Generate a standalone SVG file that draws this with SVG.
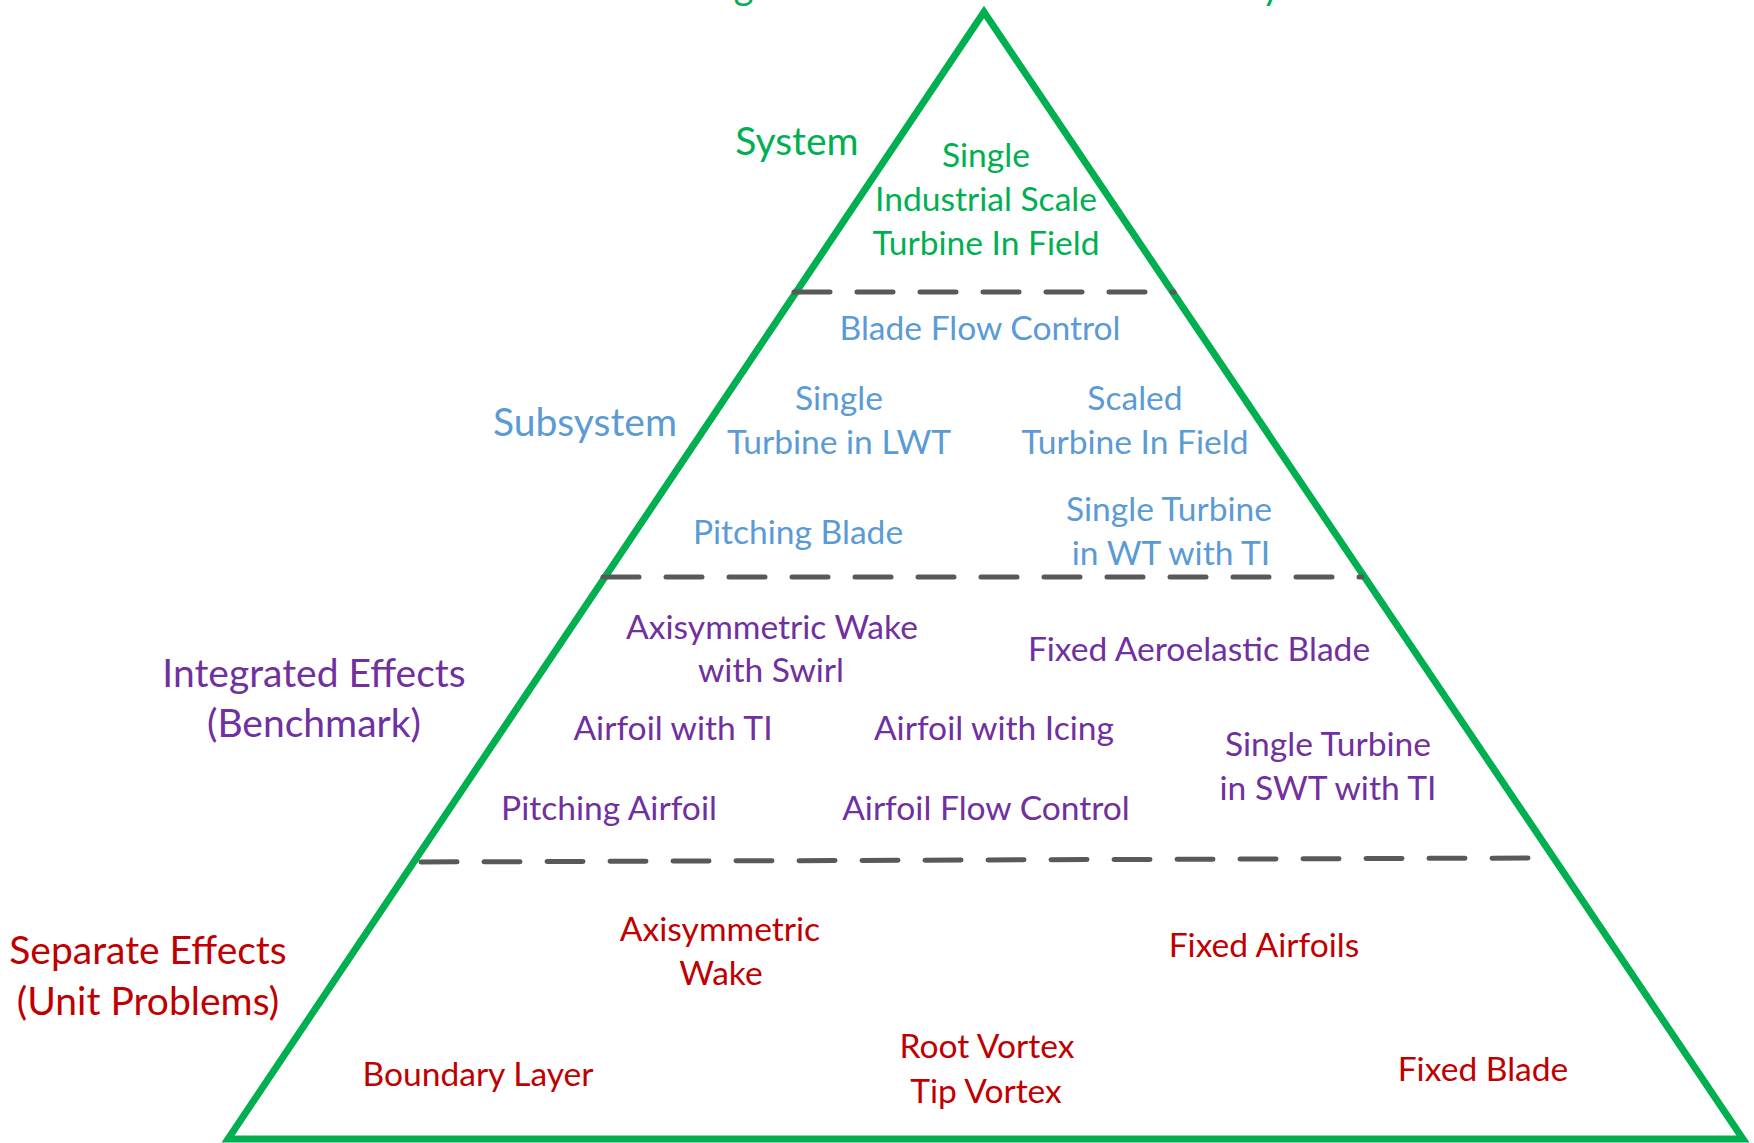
<svg xmlns="http://www.w3.org/2000/svg" width="1754" height="1143" viewBox="0 0 1754 1143">
<style>
text{font-family:Lato,"Open Sans","Liberation Sans",sans-serif;text-anchor:middle}
.item{font-size:33.6px}
.lbl{font-size:39px}
.g{fill:#00B050}.b{fill:#5B9BD5}.p{fill:#7030A0}.r{fill:#C00000}
.dash{stroke:#595959;stroke-width:5;stroke-dasharray:36 27;stroke-linecap:round;fill:none}
</style>
<rect width="1754" height="1143" fill="#fff"/>
<g id="title"><text class="g" x="981" y="-1" font-size="38" textLength="600" lengthAdjust="spacing">Single Turbine Validation Hierarchy</text></g>
<g id="pyramid"><polygon points="984,12 228,1139 1743,1139" fill="none" stroke="#00B050" stroke-width="7" stroke-linejoin="miter"/></g>
<g id="connectors">
<line class="dash" x1="794" y1="292" x2="1174" y2="292"/>
<line class="dash" x1="603" y1="577" x2="1362" y2="577"/>
<line class="dash" x1="421" y1="862" x2="1532" y2="858"/>
</g>
<g id="system-label"><text class="lbl g" x="797" y="155">System</text></g>
<g id="n-industrial"><text class="item g" x="986" y="167">Single</text><text class="item g" x="986" y="211">Industrial Scale</text><text class="item g" x="986" y="255">Turbine In Field</text></g>
<g id="subsystem-label"><text class="lbl b" x="585" y="436">Subsystem</text></g>
<g id="n-bladeflow"><text class="item b" x="980" y="340">Blade Flow Control</text></g>
<g id="n-lwt"><text class="item b" x="839" y="410">Single</text><text class="item b" x="839" y="454">Turbine in LWT</text></g>
<g id="n-scaled"><text class="item b" x="1135" y="410">Scaled</text><text class="item b" x="1135" y="454">Turbine In Field</text></g>
<g id="n-pitchblade"><text class="item b" x="798" y="544">Pitching Blade</text></g>
<g id="n-wt"><text class="item b" x="1169" y="521">Single Turbine</text><text class="item b" x="1171" y="565">in WT with TI</text></g>
<g id="integrated-label"><text class="lbl p" x="314" y="687">Integrated Effects</text><text class="lbl p" x="314" y="737">(Benchmark)</text></g>
<g id="n-axiswirl"><text class="item p" x="772" y="639">Axisymmetric Wake</text><text class="item p" x="771" y="682">with Swirl</text></g>
<g id="n-fixedaero"><text class="item p" x="1199" y="661">Fixed Aeroelastic Blade</text></g>
<g id="n-airfoilti"><text class="item p" x="673" y="740">Airfoil with TI</text></g>
<g id="n-icing"><text class="item p" x="994" y="740">Airfoil with Icing</text></g>
<g id="n-swt"><text class="item p" x="1328" y="756">Single Turbine</text><text class="item p" x="1328" y="800">in SWT with TI</text></g>
<g id="n-pitchairfoil"><text class="item p" x="609" y="820">Pitching Airfoil</text></g>
<g id="n-airfoilflow"><text class="item p" x="986" y="820">Airfoil Flow Control</text></g>
<g id="separate-label"><text class="lbl r" x="148" y="964">Separate Effects</text><text class="lbl r" x="148" y="1015">(Unit Problems)</text></g>
<g id="n-axiwake"><text class="item r" x="720" y="941">Axisymmetric</text><text class="item r" x="721" y="985">Wake</text></g>
<g id="n-fixedairfoils"><text class="item r" x="1264" y="957">Fixed Airfoils</text></g>
<g id="n-boundary"><text class="item r" x="478" y="1086">Boundary Layer</text></g>
<g id="n-vortex"><text class="item r" x="987" y="1058">Root Vortex</text><text class="item r" x="986" y="1103">Tip Vortex</text></g>
<g id="n-fixedblade"><text class="item r" x="1483" y="1081">Fixed Blade</text></g>
</svg>
